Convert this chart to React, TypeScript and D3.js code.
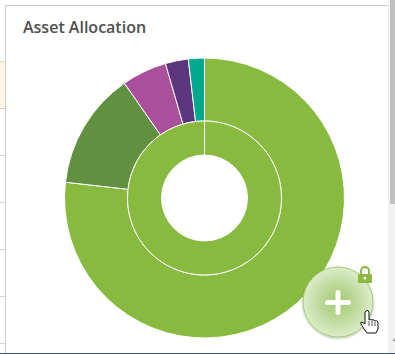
import React from "react";
import * as d3 from "d3";

const categories = ["Equity", "Debt", "Alternatives", "Cash", "Other"];
const outerValues = [76.8, 13.5, 5.2, 2.65, 1.85];
const innerValues = [100];
const outerColors = ["#89ba40", "#609040", "#a94f9c", "#5c357f", "#00a98d"];
const innerColors = ["#89ba40"];
const title = "Asset Allocation";
const leftRowLines = [61, 108, 155, 202, 249, 296, 343];

const cx = 204.5, cy = 198;

export default function App() {
  const pie = d3.pie<number>().sort(null).startAngle(0).endAngle(2 * Math.PI);
  const outerArc = d3.arc<d3.PieArcDatum<number>>().innerRadius(77).outerRadius(140);
  const innerArc = d3.arc<d3.PieArcDatum<number>>().innerRadius(43).outerRadius(77);
  const plusR = 35;
  return (
    <svg width={395} height={354} style={{ position: "fixed", left: 0, top: 0, background: "#fff" }}>
      <defs>
        <radialGradient id="fab" cx="50%" cy="50%" r="50%">
          <stop offset="0%" stopColor="#a0c86c" />
          <stop offset="50%" stopColor="#bcd99a" />
          <stop offset="100%" stopColor="#dcecc9" />
        </radialGradient>
        <filter id="sh" x="-20%" y="-20%" width="140%" height="140%">
          <feDropShadow dx={0} dy={1} stdDeviation={1.2} floodColor="#000" floodOpacity={0.3} />
        </filter>
      </defs>
      {/* page frame */}
      <rect x={0} y={62} width={5} height={46} fill="#fdf6e5" />
      {leftRowLines.map((y) => (
        <line key={y} x1={0} x2={5} y1={y + 0.5} y2={y + 0.5} stroke="#d4d4d4" />
      ))}
      <line x1={5.5} x2={5.5} y1={5} y2={353} stroke="#cccccc" />
      <line x1={5} x2={388} y1={5.5} y2={5.5} stroke="#cccccc" />
      <rect x={388} y={0} width={7} height={353} fill="#f1f1f1" />
      <rect x={390} y={0} width={5} height={204} fill="#c0c0c0" />
      <rect x={0} y={353} width={395} height={1} fill="#3b5a85" />
      <text x={23} y={33} fontFamily="'Open Sans', sans-serif" fontSize={16} fontWeight={600} fill="#4f4f4f">{title}</text>

      <g transform={`translate(${cx},${cy})`}>
        {pie(outerValues).map((d, i) => (
          <path key={categories[i]} d={outerArc(d) ?? ""} fill={outerColors[i]} stroke="#fff" strokeWidth={1} />
        ))}
        {pie(innerValues).map((d, i) => (
          <path key={i} d={innerArc(d) ?? ""} fill={innerColors[i]} stroke="#fff" strokeWidth={1} />
        ))}
        <line x1={0} x2={0} y1={-43} y2={-77} stroke="#fff" strokeWidth={1} />
      </g>

      {/* floating add button */}
      <circle cx={338} cy={302} r={plusR} fill="url(#fab)" stroke="#a5cb75" strokeWidth={1} filter="url(#sh)" />
      <rect x={325} y={300} width={26} height={5} rx={2.5} fill="#fff" />
      <rect x={335.5} y={290} width={5} height={25} rx={2.5} fill="#fff" />
      {/* lock */}
      <rect x={358} y={274} width={14} height={9} rx={1} fill="#8aba41" />
      <path d="M361 274 v-3 a4 4 0 0 1 8 0 v3" fill="none" stroke="#8aba41" strokeWidth={2} />
      <circle cx={365} cy={278} r={1.5} fill="#fff" />
      {/* hand cursor */}
      <path
        d="M366 311 q2 -2 3 1 v8 q2 -1 3 0 q2 -1 3 1 q2 -1 3 1 v7 l-2 4 h-9 l-3 -4 l-3 -5 q-1 -2 1 -2 l3 2 v-12 z"
        fill="#fff"
        stroke="#111"
        strokeWidth={1}
      />
      <path d="M369 321 v5 M372 321 v5 M375 322 v4" stroke="#111" strokeWidth={0.7} />
      <text x={392} y={346} fontSize={9} fontFamily="'DejaVu Sans'" fill="#444">˅</text>
    </svg>
  );
}
